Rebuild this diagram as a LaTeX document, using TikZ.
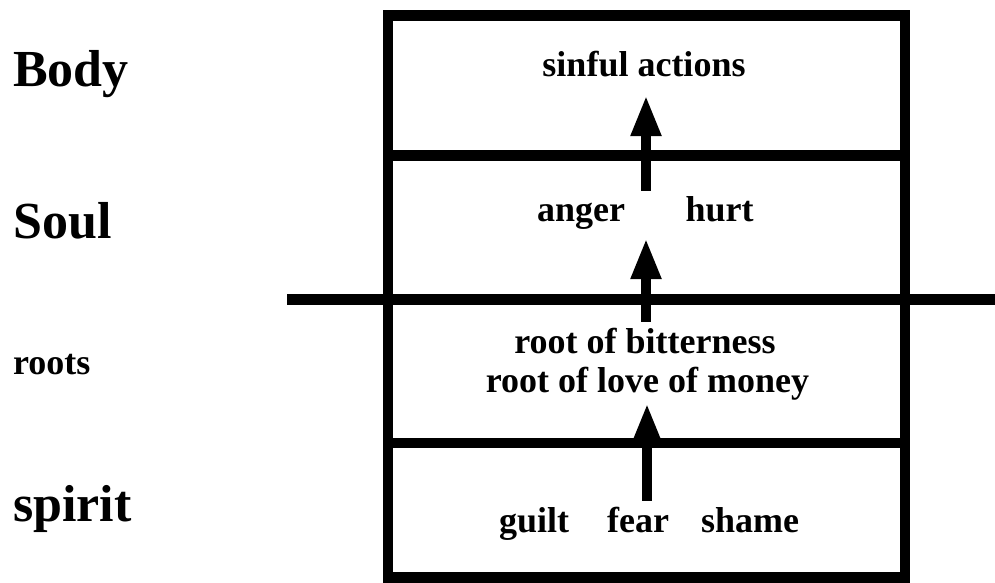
\documentclass[tikz,border=0pt]{standalone}
\usepackage{fontspec}
\setmainfont{Liberation Serif}
\usepackage{tikz}
\usetikzlibrary{arrows.meta}

\begin{document}
\begin{tikzpicture}[x=0.5pt, y=-0.5pt,
      wall/.style={line width=5.3pt},
      flow/.style={line width=5.3pt, -{Triangle[length=20.5pt, width=14pt]}},
      inner/.style={font=\fontsize{18}{19.7}\selectfont\bfseries, inner sep=0pt, anchor=base, align=center},
      side/.style={font=\fontsize{26}{28}\selectfont\bfseries, inner sep=0pt, anchor=base west},
      sidesm/.style={font=\fontsize{18}{19.7}\selectfont\bfseries, inner sep=0pt, anchor=base west}
    ]
    \useasboundingbox (0,0) rectangle (995,583);

    % Frame and dividers
    \draw[wall] (388,15.5) rectangle (905,577.5);
    \draw[wall] (388,155.5) -- (905,155.5);
    \draw[wall] (388,443) -- (905,443);
    \draw[wall] (287,299.5) -- (995,299.5);

    % Left column
    \node[side]   (body)   at (12.7,87)    {Body};
    \node[side]   (soul)   at (13,238)     {Soul};
    \node[sidesm] (roots)  at (12.7,374)   {roots};
    \node[side]   (spirit) at (12.7,521.7) {spirit};

    % Body
    \node[inner] (acts) at (644,76.7) {sinful actions};

    % Soul
    \node[inner] (anger) at (581,221) {anger};
    \node[inner] (hurt)  at (719.5,221) {hurt};

    % Roots
    \node[inner] (bitter) at (645,353.3) {root of bitterness};
    \node[inner] (money)  at (647.5,392.7) {root of love of money};

    % Spirit
    \node[inner] (guilt) at (534,532) {guilt};
    \node[inner] (fear)  at (638,532) {fear};
    \node[inner] (shame) at (750,532) {shame};

    % Arrow ends
    \coordinate (up1a) at (646,190.7);
    \coordinate (up1b) at (646,95);
    \coordinate (up2a) at (646,321.7);
    \coordinate (up2b) at (646,238);
    \coordinate (up3a) at (647,500.7);
    \coordinate (up3b) at (647,403);

    \draw[flow] (up1a) -- (up1b);
    \draw[flow] (up2a) -- (up2b);
    \draw[flow] (up3a) -- (up3b);
  \end{tikzpicture}
\end{document}
